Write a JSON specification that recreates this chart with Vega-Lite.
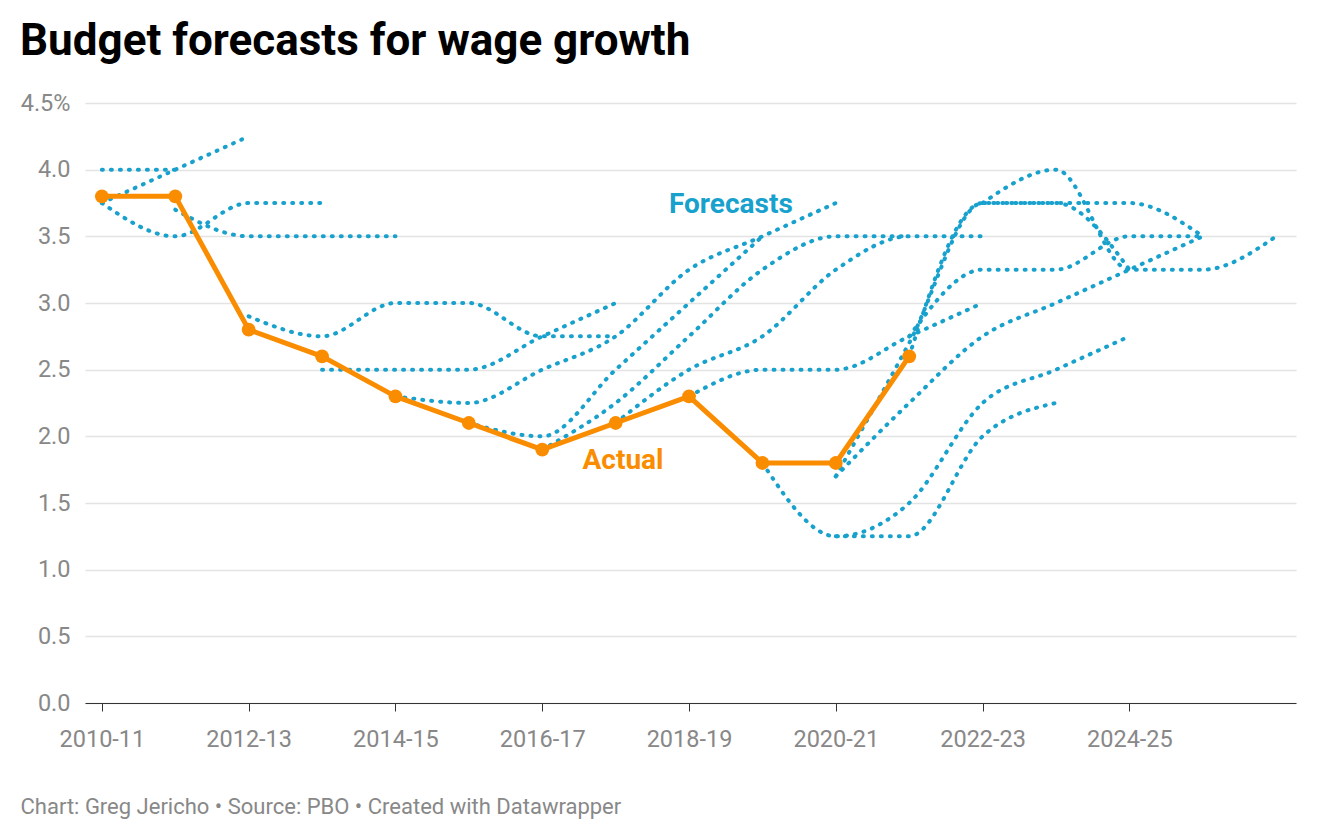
{
  "$schema": "https://vega.github.io/schema/vega-lite/v6.json",
  "width": 1211,
  "height": 600,
  "autosize": "none",
  "padding": {"left": 85, "top": 103, "right": 24, "bottom": 137},
  "background": "white",
  "config": {"view": {"stroke": null}, "font": "Roboto"},
  "title": {
    "text": "Budget forecasts for wage growth",
    "anchor": "start",
    "frame": "group",
    "dx": -65,
    "offset": -8,
    "baseline": "alphabetic",
    "font": "Roboto",
    "fontSize": 44,
    "fontWeight": "bold",
    "color": "#000000"
  },
  "datasets": {
    "forecasts": [
      {"s": "A", "year": 2010, "v": 4.0}, {"s": "A", "year": 2011, "v": 4.0},
      {"s": "B", "year": 2010, "v": 3.75}, {"s": "B", "year": 2011, "v": 4.0}, {"s": "B", "year": 2012, "v": 4.25},
      {"s": "C", "year": 2010, "v": 3.75}, {"s": "C", "year": 2011, "v": 3.5}, {"s": "C", "year": 2012, "v": 3.75}, {"s": "C", "year": 2013, "v": 3.75},
      {"s": "D", "year": 2011, "v": 3.7}, {"s": "D", "year": 2012, "v": 3.5}, {"s": "D", "year": 2013, "v": 3.5}, {"s": "D", "year": 2014, "v": 3.5},
      {"s": "E", "year": 2012, "v": 2.9}, {"s": "E", "year": 2013, "v": 2.75}, {"s": "E", "year": 2014, "v": 3.0}, {"s": "E", "year": 2015, "v": 3.0}, {"s": "E", "year": 2016, "v": 2.75}, {"s": "E", "year": 2017, "v": 2.75},
      {"s": "F", "year": 2013, "v": 2.5}, {"s": "F", "year": 2014, "v": 2.5}, {"s": "F", "year": 2015, "v": 2.5}, {"s": "F", "year": 2016, "v": 2.75}, {"s": "F", "year": 2017, "v": 3.0},
      {"s": "G", "year": 2014, "v": 2.3}, {"s": "G", "year": 2015, "v": 2.25}, {"s": "G", "year": 2016, "v": 2.5}, {"s": "G", "year": 2017, "v": 2.75}, {"s": "G", "year": 2018, "v": 3.25}, {"s": "G", "year": 2019, "v": 3.5}, {"s": "G", "year": 2020, "v": 3.75},
      {"s": "H", "year": 2015, "v": 2.1}, {"s": "H", "year": 2016, "v": 2.0}, {"s": "H", "year": 2017, "v": 2.5}, {"s": "H", "year": 2018, "v": 3.0}, {"s": "H", "year": 2019, "v": 3.5},
      {"s": "I", "year": 2016, "v": 1.9}, {"s": "I", "year": 2017, "v": 2.25}, {"s": "I", "year": 2018, "v": 2.75}, {"s": "I", "year": 2019, "v": 3.25}, {"s": "I", "year": 2020, "v": 3.5}, {"s": "I", "year": 2021, "v": 3.5},
      {"s": "J", "year": 2017, "v": 2.1}, {"s": "J", "year": 2018, "v": 2.5}, {"s": "J", "year": 2019, "v": 2.75}, {"s": "J", "year": 2020, "v": 3.25}, {"s": "J", "year": 2021, "v": 3.5}, {"s": "J", "year": 2022, "v": 3.5},
      {"s": "K", "year": 2018, "v": 2.3}, {"s": "K", "year": 2019, "v": 2.5}, {"s": "K", "year": 2020, "v": 2.5}, {"s": "K", "year": 2021, "v": 2.75}, {"s": "K", "year": 2022, "v": 3.0},
      {"s": "L", "year": 2019, "v": 1.8}, {"s": "L", "year": 2020, "v": 1.25}, {"s": "L", "year": 2021, "v": 1.5}, {"s": "L", "year": 2022, "v": 2.25}, {"s": "L", "year": 2023, "v": 2.5}, {"s": "L", "year": 2024, "v": 2.75},
      {"s": "M", "year": 2020, "v": 1.7}, {"s": "M", "year": 2021, "v": 2.25}, {"s": "M", "year": 2022, "v": 2.75}, {"s": "M", "year": 2023, "v": 3.0}, {"s": "M", "year": 2024, "v": 3.25}, {"s": "M", "year": 2025, "v": 3.5},
      {"s": "P", "year": 2020, "v": 1.25}, {"s": "P", "year": 2021, "v": 1.25}, {"s": "P", "year": 2022, "v": 2.0}, {"s": "P", "year": 2023, "v": 2.25},
      {"s": "Q", "year": 2021, "v": 2.75}, {"s": "Q", "year": 2022, "v": 3.25}, {"s": "Q", "year": 2023, "v": 3.25}, {"s": "Q", "year": 2024, "v": 3.5}, {"s": "Q", "year": 2025, "v": 3.5},
      {"s": "R", "year": 2020, "v": 1.7}, {"s": "R", "year": 2021, "v": 2.7}, {"s": "R", "year": 2022, "v": 3.75}, {"s": "R", "year": 2023, "v": 3.75}, {"s": "R", "year": 2024, "v": 3.25},
      {"s": "S", "year": 2021, "v": 2.6}, {"s": "S", "year": 2022, "v": 3.75}, {"s": "S", "year": 2023, "v": 3.75}, {"s": "S", "year": 2024, "v": 3.75}, {"s": "S", "year": 2025, "v": 3.5},
      {"s": "T", "year": 2022, "v": 3.75}, {"s": "T", "year": 2023, "v": 4.0}, {"s": "T", "year": 2024, "v": 3.25}, {"s": "T", "year": 2025, "v": 3.25}, {"s": "T", "year": 2026, "v": 3.5}
    ],
    "actual": [
      {"year": 2010, "v": 3.8}, {"year": 2011, "v": 3.8}, {"year": 2012, "v": 2.8}, {"year": 2013, "v": 2.6},
      {"year": 2014, "v": 2.3}, {"year": 2015, "v": 2.1}, {"year": 2016, "v": 1.9}, {"year": 2017, "v": 2.1},
      {"year": 2018, "v": 2.3}, {"year": 2019, "v": 1.8}, {"year": 2020, "v": 1.8}, {"year": 2021, "v": 2.6}
    ],
    "labels": [
      {"label": "Forecasts", "year": 2018.57, "v": 3.735, "kind": "f"},
      {"label": "Actual", "year": 2017.1, "v": 1.815, "kind": "a"}
    ]
  },
  "encoding": {
    "x": {
      "field": "year",
      "type": "quantitative",
      "scale": {"domain": [2009.77, 2026.27], "nice": false, "zero": false},
      "axis": {
        "values": [2010, 2012, 2014, 2016, 2018, 2020, 2022, 2024],
        "labelExpr": "datum.value + '-' + slice(toString(datum.value + 1), 2)",
        "grid": false,
        "domain": true,
        "domainColor": "#333333",
        "domainWidth": 1,
        "ticks": true,
        "tickColor": "#333333",
        "tickSize": 8,
        "labelPadding": 16,
        "labelFont": "Roboto",
        "labelFontSize": 23.5,
        "labelColor": "#888888",
        "title": "Chart: Greg Jericho • Source: PBO • Created with Datawrapper",
        "titleFont": "Roboto",
        "titleFontSize": 22,
        "titleFontWeight": "normal",
        "titleColor": "#888888",
        "titleAnchor": "start",
        "titleAlign": "left",
        "titleBaseline": "alphabetic",
        "titleX": -65,
        "titleY": 110
      }
    },
    "y": {
      "field": "v",
      "type": "quantitative",
      "scale": {"domain": [0, 4.5], "nice": false},
      "axis": {
        "values": [0, 0.5, 1, 1.5, 2, 2.5, 3, 3.5, 4, 4.5],
        "labelExpr": "datum.value == 4.5 ? '4.5%' : format(datum.value, '.1f')",
        "grid": true,
        "gridColor": "#e3e3e3",
        "gridWidth": 1.5,
        "domain": false,
        "ticks": false,
        "tickSize": 0,
        "labelPadding": 15,
        "labelFont": "Roboto",
        "labelFontSize": 23.5,
        "labelColor": "#888888",
        "title": null
      }
    }
  },
  "layer": [
    {
      "data": {"name": "forecasts"},
      "mark": {
        "type": "line",
        "interpolate": "monotone",
        "color": "#18a1cd",
        "strokeWidth": 4,
        "strokeCap": "round",
        "strokeDash": [1, 8]
      },
      "encoding": {"detail": {"field": "s"}}
    },
    {
      "data": {"name": "actual"},
      "mark": {"type": "line", "color": "#fa8c00", "strokeWidth": 5, "strokeJoin": "round"}
    },
    {
      "data": {"name": "actual"},
      "mark": {"type": "point", "filled": true, "shape": "circle", "size": 190, "color": "#fa8c00", "opacity": 1}
    },
    {
      "data": {"name": "labels"},
      "mark": {"type": "text", "font": "Roboto", "fontSize": 28, "fontWeight": "bold", "align": "center", "baseline": "middle"},
      "encoding": {
        "text": {"field": "label"},
        "color": {"field": "kind", "type": "nominal", "scale": {"domain": ["f", "a"], "range": ["#18a1cd", "#fa8c00"]}, "legend": null}
      }
    }
  ]
}
